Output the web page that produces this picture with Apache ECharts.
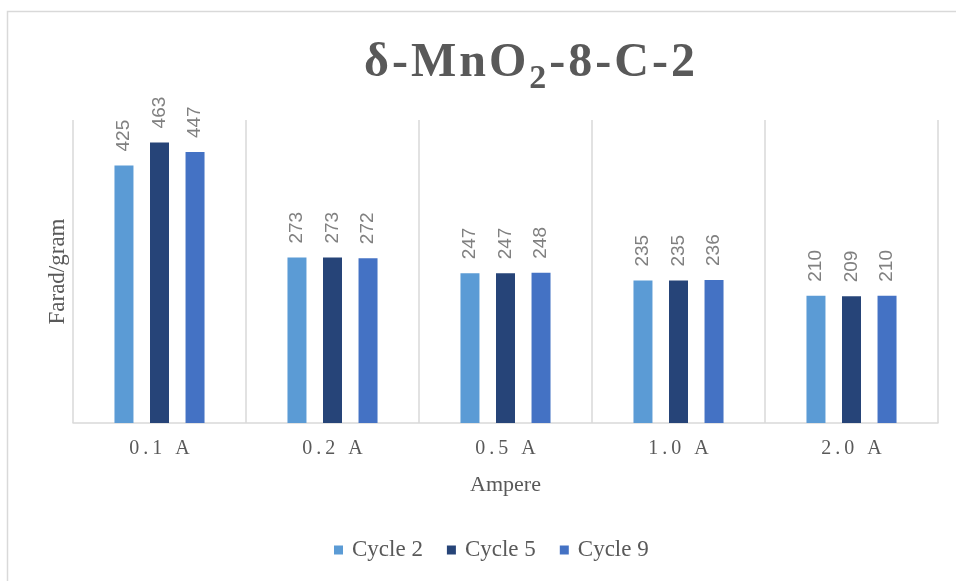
<!DOCTYPE html>
<html><head><meta charset="utf-8">
<script src="https://cdn.jsdelivr.net/npm/echarts@6/dist/echarts.min.js"></script>
<style>html,body{margin:0;padding:0;background:#fff}#c{width:956px;height:581px}</style>
</head><body><div id="c"></div>
<script>
const categories = ['0.1 A', '0.2 A', '0.5 A', '1.0 A', '2.0 A'];
const seriesNames = ['Cycle 2', 'Cycle 5', 'Cycle 9'];
const cycle2 = [425, 273, 247, 235, 210];
const cycle5 = [463, 273, 247, 235, 209];
const cycle9 = [447, 272, 248, 236, 210];
const colors = ['#5B9BD5', '#264478', '#4472C4'];
const titleMain1 = 'δ-MnO';
const titleSub = '2';
const titleMain2 = '-8-C-2';

const chart = echarts.init(document.getElementById('c'));
const label = {
  show: true, position: 'top', rotate: 90, align: 'left', verticalAlign: 'middle', distance: 14,
  color: '#808080', fontFamily: 'Liberation Sans', fontSize: 19
};
function mk(name, data, color) {
  return { name, type: 'bar', data, itemStyle: { color }, barWidth: 19, barGap: '87%', label };
}
const titleText = titleMain1.split('').map(c => '{a|' + c + '}').join('') + '{s|' + titleSub + '}' +
  titleMain2.split('').map(c => '{a|' + c + '}').join('');
chart.setOption({
  animation: false,
  color: colors,
  title: {
    text: titleText,
    left: 531, top: 40, textAlign: 'center', padding: 0,
    textStyle: {
      rich: {
        a: { fontFamily: 'Liberation Serif', fontWeight: 'bold', fontSize: 48, color: '#595959', lineHeight: 56, verticalAlign: 'top', padding: [0, 3, 0, 0] },
        s: { fontFamily: 'Liberation Serif', fontWeight: 'bold', fontSize: 34, color: '#595959', lineHeight: 56, verticalAlign: 'top', padding: [22, 3, 0, 0] }
      }
    }
  },
  graphic: [{ type: 'rect', shape: { x: 7.5, y: 11.5, width: 1000, height: 1000 }, style: { fill: 'none', stroke: '#d9d9d9', lineWidth: 1.5 }, silent: true }],
  legend: {
    left: 329, top: 532, itemWidth: 9, itemHeight: 9, itemGap: 24,
    textStyle: { fontFamily: 'Liberation Serif', fontSize: 23, color: '#595959', padding: [0, 0, 0, 4], lineHeight: 26 },
    data: seriesNames.map(n => ({ name: n, icon: 'rect' }))
  },
  grid: { left: 73, right: 18, top: 120, bottom: 158 },
  xAxis: {
    type: 'category', data: categories,
    name: 'Ampere', nameLocation: 'middle', nameGap: 51,
    nameTextStyle: { fontFamily: 'Liberation Serif', fontSize: 22, color: '#595959' },
    axisLine: { lineStyle: { color: '#d9d9d9', width: 1.5 } },
    axisTick: { show: false },
    splitLine: { show: true, lineStyle: { color: '#d9d9d9', width: 1.5 } },
    axisLabel: { fontFamily: 'Liberation Serif', fontSize: 20, color: '#595959', margin: 16,
      formatter: v => v.split('').join('\u2009') }
  },
  yAxis: {
    type: 'value', min: 0, max: 500, interval: 100,
    name: 'Farad/gram', nameLocation: 'middle', nameGap: 4, nameRotate: 90,
    nameTextStyle: { fontFamily: 'Liberation Serif', fontSize: 23, color: '#595959' },
    axisLabel: { show: false }, axisTick: { show: false }, axisLine: { show: false },
    splitLine: { show: false }
  },
  series: [mk(seriesNames[0], cycle2, colors[0]), mk(seriesNames[1], cycle5, colors[1]), mk(seriesNames[2], cycle9, colors[2])]
});
</script></body></html>
